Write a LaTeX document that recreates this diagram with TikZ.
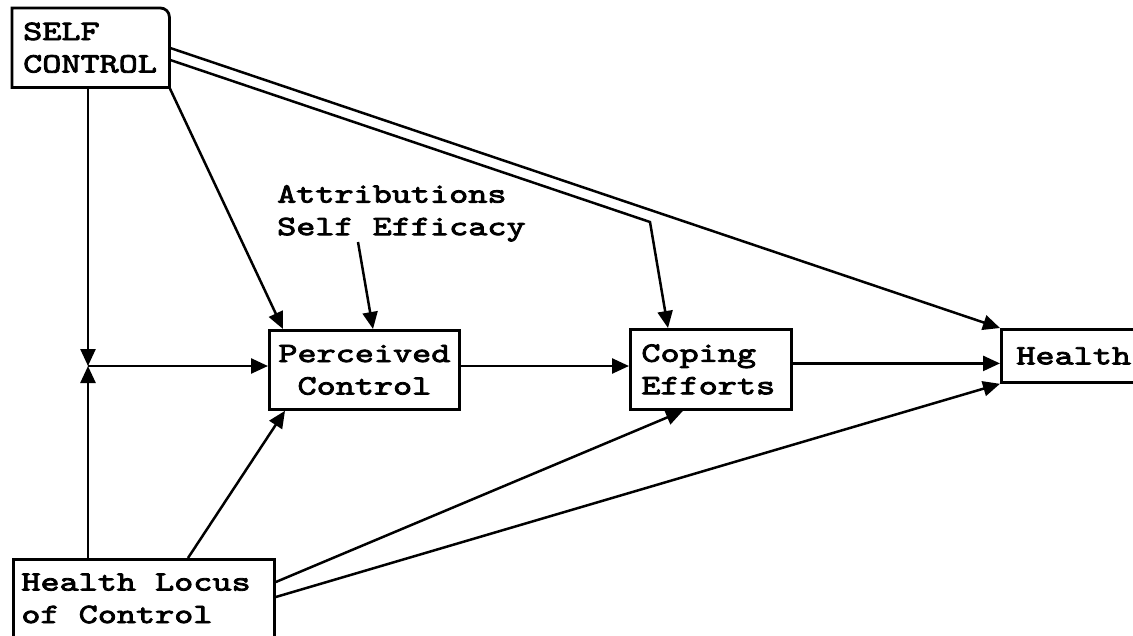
\documentclass[tikz,border=0pt]{standalone}
\usepackage{fontspec}
\newfontfamily\typew{lmmono10-regular}[Extension=.otf, FakeBold=3, FakeStretch=1.3]
\usetikzlibrary{arrows.meta}
\begin{document}
\begin{tikzpicture}[x=1pt,y=-1pt,
  lbl/.style={font=\typew\fontsize{28}{32.5}\selectfont,
    execute at begin node={\spaceskip=19.1pt\relax}},
  box/.style={lbl, draw, line width=2.8pt, anchor=north west, inner ysep=0pt},
  arr/.style={line width=2.5pt, -{Triangle[length=17pt,width=15pt]}}
]
\useasboundingbox (0,0) rectangle (1133,635);
\clip (0,0) rectangle (1133,635);

% boxes
\node[lbl, anchor=north west, inner ysep=0pt, inner xsep=11pt, text width=135pt,
      minimum width=155pt, minimum height=79pt, align=left] (SC) at (12,8) {SELF\\CONTROL};
\draw[line width=2.8pt] (SC.south west) -- (SC.north west) -- ([xshift=-9pt]SC.north east)
  arc[start angle=90, end angle=0, radius=9pt] -- (SC.south east) -- cycle;

\node[box, inner xsep=8pt, text width=245pt, minimum width=261pt, minimum height=78pt,
      align=left] (HLC) at (12,558) {Health Locus\\of Control};

\node[box, inner xsep=5pt, text width=180pt, minimum width=190pt, minimum height=79pt,
      align=center] (PC) at (268,329) {Perceived\\Control};

\node[box, inner xsep=11pt, text width=139pt, minimum width=161pt, minimum height=80pt,
      align=left] (CE) at (629,328) {Coping\\Efforts};

\node[box, inner xsep=15pt, text width=120pt, minimum width=150pt, minimum height=53pt,
      align=left] (H) at (1000,328) {Health};

\node[lbl, anchor=north west, inner sep=0pt, align=left] (AE) at (277,185)
  {Attributions\\Self Efficacy};

% helper points
\coordinate (J) at (88,366);
\coordinate (K) at (650,222);
\coordinate (AT) at (358,242);

% connectors
\draw[arr] ([xshift=76pt]SC.south west) -- (J);
\draw[arr] ([xshift=76pt]HLC.north west) -- (J);
\draw[arr] (J) -- (J -| PC.west);
\draw[arr] (SC.south east) -- ([xshift=15pt]PC.north west);
\draw[arr] (AT) -- ([xshift=105pt]PC.north west);
\draw[arr] (SC.east) -- (H.north west);
\draw[arr] ([yshift=-12pt]SC.east) -- (K) -- ([xshift=39pt]CE.north west);
\draw[arr] (J -| PC.east) -- (J -| CE.west);
\draw[arr] ([yshift=6pt]CE.east) -- ([yshift=6pt]CE.east -| H.west);
\draw[arr] ([xshift=176pt]HLC.north west) -- ([xshift=17pt]PC.south west);
\draw[arr] ([yshift=-24pt]HLC.north east) -- ([xshift=54pt]CE.south west);
\draw[arr] ([yshift=-39pt]HLC.north east) -- (H.south west);
\end{tikzpicture}
\end{document}
